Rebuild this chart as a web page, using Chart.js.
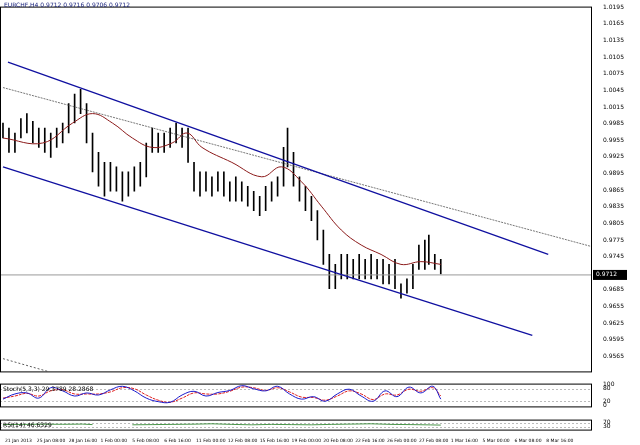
<!DOCTYPE html>
<html><head><meta charset="utf-8">
<script src="https://cdn.jsdelivr.net/npm/chart.js@4"></script>
<style>
body{margin:0;background:#fff;width:640px;height:445px;overflow:hidden;font-family:"DejaVu Sans"}
canvas{position:absolute;left:0}
#t{position:absolute;left:4px;top:1px;font-size:6px;color:#1a237e;z-index:2}
</style></head><body>
<div id="t">EURCHF,H4 0.9712 0.9716 0.9706 0.9712</div>
<canvas id="m" width="640" height="378" style="top:0px"></canvas>
<canvas id="s" width="640" height="36" style="top:377px"></canvas>
<canvas id="r" width="640" height="32" style="top:413px"></canvas>
<script>
// bar positions (time index)
const barX=[0,6,12,18,24,30,36,42,48,54,60,66,72,78,84,90,96,102,108,114,120,126,132,138,144,150,156,162,168,174,180,186,192,198,204,210,216,222,228,234,240,246,252,258,264,270,276,282,286,292,298,304,310,316,322,328,334,340,346,352,358,364,370,376,382,388,394,400,406,412,418,424,428,434,440];
const highs=[0.9986,0.9977,0.9968,0.9994,1.0003,0.9989,0.9977,0.9977,0.9968,0.9977,0.9986,1.0021,1.0038,1.0047,1.0021,0.9968,0.9933,0.9915,0.9915,0.9907,0.9898,0.9898,0.9907,0.9915,0.9950,0.9977,0.9968,0.9968,0.9977,0.9986,0.9977,0.9977,0.9915,0.9898,0.9898,0.9889,0.9898,0.9898,0.9880,0.9889,0.9880,0.9872,0.9863,0.9854,0.9872,0.9880,0.9889,0.9942,0.9977,0.9933,0.9889,0.9872,0.9854,0.9828,0.9793,0.9749,0.9731,0.9749,0.9749,0.9740,0.9749,0.9740,0.9749,0.9740,0.9740,0.9731,0.9740,0.9696,0.9705,0.9731,0.9766,0.9775,0.9784,0.9749,0.9740];
const lows=[0.9959,0.9933,0.9933,0.9959,0.9968,0.9950,0.9942,0.9933,0.9924,0.9942,0.9950,0.9968,0.9986,1.0003,0.9950,0.9898,0.9872,0.9854,0.9863,0.9863,0.9845,0.9854,0.9863,0.9872,0.9889,0.9933,0.9933,0.9933,0.9942,0.9950,0.9942,0.9915,0.9863,0.9854,0.9863,0.9854,0.9863,0.9854,0.9845,0.9845,0.9845,0.9836,0.9828,0.9819,0.9828,0.9845,0.9854,0.9872,0.9907,0.9872,0.9845,0.9828,0.9810,0.9775,0.9731,0.9687,0.9687,0.9705,0.9705,0.9705,0.9705,0.9705,0.9705,0.9705,0.9696,0.9696,0.9687,0.9670,0.9679,0.9687,0.9722,0.9722,0.9731,0.9722,0.9714];
const maX=[0,40,70,90,110,130,150,170,185,200,230,260,280,300,320,340,360,380,400,420,440];
const maY=[0.9959,0.9950,0.9986,1.0003,0.9986,0.9959,0.9942,0.9950,0.9968,0.9942,0.9915,0.9889,0.9907,0.9880,0.9836,0.9793,0.9766,0.9749,0.9731,0.9736,0.9731];
const upperCh=[{x:5,y:1.0096},{x:548,y:0.9749}];
const lowerCh=[{x:0,y:0.9907},{x:532,y:0.9603}];
const grayTrend=[{x:0,y:1.0050},{x:592,y:0.9763}];
const smallDot=[{x:0,y:0.9561},{x:45,y:0.9538}];
const lastPrice=0.9712;
const priceTicks=[1.0195,1.0165,1.0135,1.0105,1.0075,1.0045,1.0015,0.9985,0.9955,0.9925,0.9895,0.9865,0.9835,0.9805,0.9775,0.9745,0.9715,0.9685,0.9655,0.9625,0.9595,0.9565];
const oscX=[0,12,24,36,48,60,72,84,96,108,120,132,144,156,168,180,192,204,216,228,240,252,264,276,288,300,312,324,336,348,360,372,384,396,408,420,432,440];
const stochMain=[30,55,60,35,85,70,45,60,50,75,92,70,35,18,15,50,68,45,62,72,95,80,70,92,55,30,42,20,55,78,45,20,70,42,88,60,92,30];
const stochSig=[35,45,58,45,70,75,55,55,55,65,85,80,50,25,15,35,60,55,55,68,88,85,72,85,65,40,38,25,45,70,55,28,55,50,78,68,85,45];
const rsiX=[0,20,40,60,80,90,112,130,150,170,190,210,230,250,270,290,310,330,350,370,390,410,430,440];
const rsiV=[50,52,54,53,55,50,null,48,50,52,54,58,52,48,52,50,48,52,55,58,52,50,47,45];
const dateLabels=["21 Jan 2013","25 Jan 08:00","28 Jan 16:00","1 Feb 00:00","5 Feb 08:00","6 Feb 16:00","11 Feb 00:00","12 Feb 08:00","15 Feb 16:00","19 Feb 00:00","20 Feb 08:00","22 Feb 16:00","26 Feb 00:00","27 Feb 08:00","1 Mar 16:00","5 Mar 00:00","6 Mar 08:00","8 Mar 16:00"];

const F={family:"DejaVu Sans",size:6};
const frame={id:'frame',afterDraw(c){const a=c.chartArea,x=c.ctx;x.save();x.strokeStyle='#000';x.lineWidth=1;x.strokeRect(a.left+0.5,a.top+0.5,a.right-a.left-1,a.bottom-a.top);x.restore();}};
const yRight=(min,max,ticks,fmt)=>({position:'right',min,max,grid:{display:false},border:{display:false},
  afterFit(s){s.width=48;},afterBuildTicks(s){s.ticks=ticks.map(v=>({value:v}));},
  ticks:{font:F,color:'#000',padding:3,autoSkip:false,callback:fmt}});
const xLin={type:'linear',min:-3,max:592,display:false,offset:false};
const common={responsive:false,animation:false,layout:{padding:0},plugins:{legend:{display:false},tooltip:{enabled:false}}};

const priceBox={id:'pb',afterDraw(c){const y=c.scales.y.getPixelForValue(lastPrice),x=c.ctx,a=c.chartArea;x.save();x.fillStyle='#000';x.fillRect(a.right+1,y-5,34,10);x.fillStyle='#fff';x.font='6px DejaVu Sans';x.textBaseline='middle';x.fillText(lastPrice.toFixed(4),a.right+4,y);x.restore();}};

new Chart(document.getElementById('m'),{type:'bar',data:{datasets:[
 {type:'line',data:upperCh,borderColor:'#1010a0',borderWidth:1.3,pointRadius:0},
 {type:'line',data:lowerCh,borderColor:'#1010a0',borderWidth:1.3,pointRadius:0},
 {type:'line',data:grayTrend,borderColor:'#555',borderWidth:0.8,borderDash:[2,1],pointRadius:0},
 {type:'line',data:smallDot,borderColor:'#333',borderWidth:0.8,borderDash:[2,2],pointRadius:0},
 {type:'line',data:[{x:-3,y:lastPrice},{x:592,y:lastPrice}],borderColor:'#999',borderWidth:1,pointRadius:0},
 {type:'line',data:maX.map((x,i)=>({x,y:maY[i]})),borderColor:'#8b1a1a',borderWidth:1,pointRadius:0,tension:0.4},
 {data:barX.map((x,i)=>({x,y:[lows[i],highs[i]]})),backgroundColor:'#000',barThickness:1,grouped:false}
]},options:{...common,scales:{x:xLin,y:yRight(0.9538,1.0196,priceTicks,v=>v.toFixed(4))}},plugins:[frame,priceBox]});

const dotLines=(vals)=>({id:'dl',beforeDatasetsDraw(c){const x=c.ctx,a=c.chartArea;x.save();x.strokeStyle='#aaa';x.setLineDash([2,2]);x.lineWidth=0.8;vals.forEach(v=>{const y=Math.round(c.scales.y.getPixelForValue(v))+0.5;x.beginPath();x.moveTo(a.left,y);x.lineTo(a.right,y);x.stroke();});x.restore();}});
const label=(txt)=>({id:'lb',afterDraw(c){const x=c.ctx;x.save();x.font='6px DejaVu Sans';x.fillStyle='#000';x.fillText(txt,c.chartArea.left+3,c.chartArea.top+7);x.restore();}});

new Chart(document.getElementById('s'),{type:'line',data:{datasets:[
 {data:oscX.map((x,i)=>({x,y:stochMain[i]})),borderColor:'#1a1acc',borderWidth:1,pointRadius:0,tension:0.4},
 {data:oscX.map((x,i)=>({x,y:stochSig[i]})),borderColor:'#e02020',borderWidth:1,borderDash:[3,1],pointRadius:0,tension:0.4}
]},options:{...common,layout:{padding:{top:1}},scales:{x:xLin,y:yRight(-5,105,[100,80,20,0],v=>String(v))}},plugins:[frame,dotLines([80,20]),label('Stoch(5,3,3) 29.3789 28.2868')]});

new Chart(document.getElementById('r'),{type:'line',data:{datasets:[
 {data:rsiX.map((x,i)=>({x,y:rsiV[i]})),borderColor:'#1a7a1a',borderWidth:0.8,pointRadius:0,spanGaps:false}
]},options:{...common,scales:{x:{type:'linear',min:-3,max:592,grid:{display:false},border:{display:false},
  afterBuildTicks(s){s.ticks=dateLabels.map((d,i)=>({value:i*32+2}));},
  ticks:{font:{family:"DejaVu Sans",size:4.5},color:'#000',maxRotation:0,autoSkip:false,padding:1,align:'start',callback:(v,i)=>dateLabels[i]}},
  y:yRight(0,100,[70,30],v=>String(v))}},plugins:[frame,dotLines([70,30]),label('RSI(14) 46.6329')]});
</script></body></html>
